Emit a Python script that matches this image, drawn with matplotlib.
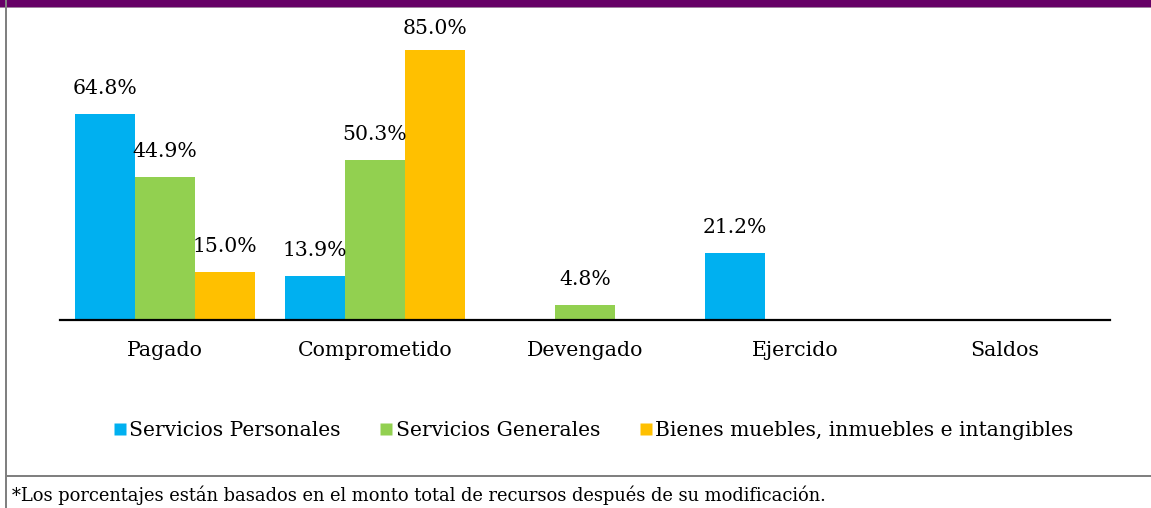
import matplotlib
matplotlib.use("Agg")
import matplotlib.pyplot as plt
from matplotlib.patches import Rectangle
from matplotlib.lines import Line2D
import numpy as np

categories = ["Pagado", "Comprometido", "Devengado", "Ejercido", "Saldos"]
series_names = ["Servicios Personales", "Servicios Generales",
                "Bienes muebles, inmuebles e intangibles"]
personales = [64.8, 13.9, None, 21.2, None]
generales = [44.9, 50.3, 4.8, None, None]
bienes = [15.0, 85.0, None, None, None]
colors = ["#00B0F0", "#92D050", "#FFC000"]
footnote = "*Los porcentajes están basados en el monto total de recursos después de su modificación."

plt.rcParams['font.family'] = ['DejaVu Serif']
W, H = 1151, 508
fig = plt.figure(figsize=(W/100, H/100), dpi=100)

def fx(px): return px / W
def fy(py): return 1 - py / H

top_val = 90.0
px_per = (320 - 50) / 85.0
top_px = 320 - top_val * px_per
ax = fig.add_axes([fx(60), fy(320), fx(1110) - fx(60), (320 - top_px) / H])
ax.set_xlim(-0.5, 4.5)
ax.set_ylim(0, top_val)
for s in ['top', 'right', 'left']:
    ax.spines[s].set_visible(False)
ax.spines['bottom'].set_linewidth(1.6)
ax.spines['bottom'].set_color('black')
ax.set_yticks([])
ax.set_xticks(range(len(categories)))
ax.set_xticklabels(categories, fontsize=14.8)
ax.tick_params(axis='x', length=0, pad=15)

bw = 60 / 210
x = np.arange(len(categories))
for i, (vals, c) in enumerate(zip([personales, generales, bienes], colors)):
    for j, v in enumerate(vals):
        if v is None:
            continue
        xc = x[j] + (i - 1) * bw
        ax.bar(xc, v, width=bw, color=c, edgecolor='none')
        ax.text(xc, min(v + 5.0, 88.8), f"{v:.1f}%", ha='center', va='bottom',
                fontsize=14.7, clip_on=False)

handles = [Line2D([], [], marker='s', linestyle='none', markersize=9,
                  markerfacecolor=c, markeredgecolor='none') for c in colors]
fig.legend(handles, series_names, loc='center', bbox_to_anchor=(fx(592), fy(431)),
           ncol=3, frameon=False, fontsize=14.6, handletextpad=0.0,
           columnspacing=1.82, handlelength=0.9)

fig.patches.append(Rectangle((0, fy(7)), 1, 7 / H, transform=fig.transFigure,
                             facecolor='#660066', edgecolor='none'))
fig.patches.append(Rectangle((0, fy(8)), 1, 1 / H, transform=fig.transFigure,
                             facecolor='#a080a0', edgecolor='none'))
fig.patches.append(Rectangle((fx(5), 0), 2 / W, 1, transform=fig.transFigure,
                             facecolor='#808080', edgecolor='none'))
fig.patches.append(Rectangle((fx(5), fy(477)), 1, 2 / H, transform=fig.transFigure,
                             facecolor='#808080', edgecolor='none'))
fig.text(fx(12), fy(495), footnote, ha='left', va='center', fontsize=12.9)

fig.savefig("out.png", dpi=100)
